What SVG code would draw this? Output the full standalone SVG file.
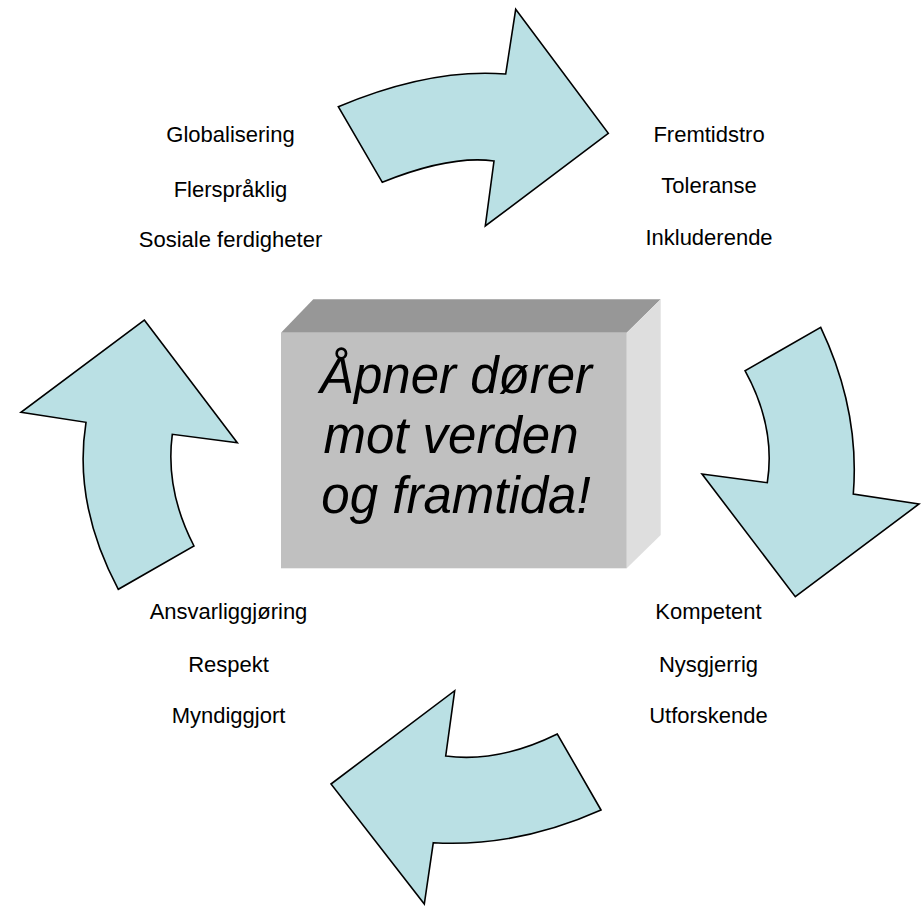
<svg xmlns="http://www.w3.org/2000/svg" width="923" height="907" viewBox="0 0 923 907">
  <style>
    .arrow { fill: #bae0e4; stroke: #000000; stroke-width: 1.6; stroke-linejoin: miter; }
    .lbl { font-family: "Liberation Sans", Arial, sans-serif; font-size: 22px; fill: #000000; text-anchor: middle; }
    .main { font-family: "Liberation Sans", Arial, sans-serif; font-size: 51px; font-style: italic; fill: #000000; text-anchor: middle; }
  </style>
  <rect x="0" y="0" width="923" height="907" fill="#ffffff"/>
  <g id="connectors">
    <path class="arrow" d="M338.3,106.7 Q430,68 505.7,74 L515.7,9.3 L608.3,133.3 L485.3,226 L494,161 Q450,155 382.3,182.3 Z"/>
    <path class="arrow" d="M820.7,327.3 Q860,410 853.3,494 L919,504 L795.3,596.7 L702,474 L767.3,482.7 Q776,427 745,370.7 Z"/>
    <path class="arrow" d="M454.7,690.7 L445.7,756 Q498.5,763 557.3,734 L601,810 Q517,847.5 433.3,842.7 L424.3,904 L331,784 Z"/>
    <path class="arrow" d="M144.3,320 L237.3,442.7 L172.3,434.3 Q165,490 194,546 L118.3,589.3 Q73,504 86,422.3 L21,412.3 Z"/>
  </g>
  <g id="center-box">
    <polygon points="281,332.7 313.3,299.3 660.7,299.3 626.7,332.7" fill="#979797"/>
    <polygon points="626.7,332.7 660.7,299.3 660.7,535 626.7,568.3" fill="#dedede"/>
    <rect x="281" y="332.7" width="345.7" height="235.6" fill="#c0c0c0"/>
    <text class="main" x="456" y="393">Åpner dører</text>
    <text class="main" x="451" y="453">mot verden</text>
    <text class="main" x="456" y="513">og framtida!</text>
  </g>
  <g id="labels-top-left">
    <text class="lbl" x="230.5" y="142">Globalisering</text>
    <text class="lbl" x="230.5" y="197">Flerspråklig</text>
    <text class="lbl" x="230.5" y="247">Sosiale ferdigheter</text>
  </g>
  <g id="labels-top-right">
    <text class="lbl" x="709" y="142">Fremtidstro</text>
    <text class="lbl" x="709" y="193">Toleranse</text>
    <text class="lbl" x="709" y="245">Inkluderende</text>
  </g>
  <g id="labels-bottom-right">
    <text class="lbl" x="708.5" y="619">Kompetent</text>
    <text class="lbl" x="708.5" y="672">Nysgjerrig</text>
    <text class="lbl" x="708.5" y="723">Utforskende</text>
  </g>
  <g id="labels-bottom-left">
    <text class="lbl" x="228.5" y="619">Ansvarliggjøring</text>
    <text class="lbl" x="228.5" y="672">Respekt</text>
    <text class="lbl" x="228.5" y="723">Myndiggjort</text>
  </g>
</svg>
